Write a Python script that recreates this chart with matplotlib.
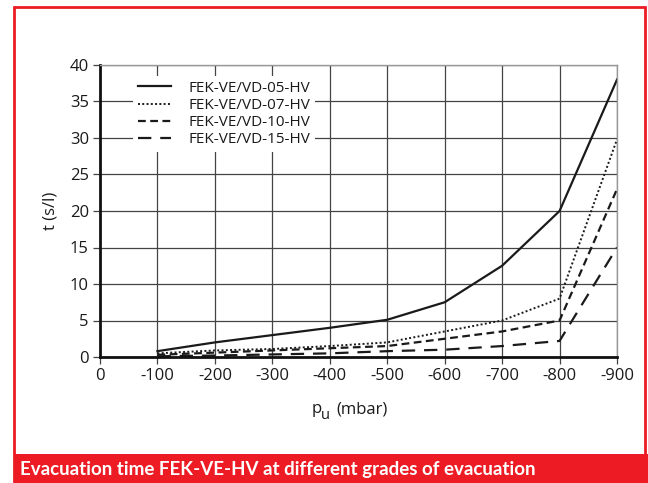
import matplotlib
matplotlib.use("Agg")
import matplotlib.pyplot as plt
from matplotlib.patches import Rectangle

pressure = [-100, -200, -300, -400, -500, -600, -700, -800, -900]
x_ticks = [0, -100, -200, -300, -400, -500, -600, -700, -800, -900]
y_ticks = [0, 5, 10, 15, 20, 25, 30, 35, 40]
s05 = [0.8, 2.0, 3.0, 4.0, 5.1, 7.5, 12.5, 20.0, 38.0]
s07 = [0.5, 0.9, 1.1, 1.5, 2.0, 3.5, 5.0, 8.0, 29.8]
s10 = [0.3, 0.6, 0.9, 1.2, 1.5, 2.5, 3.5, 5.0, 23.0]
s15 = [0.1, 0.2, 0.35, 0.5, 0.8, 1.0, 1.5, 2.2, 15.0]
labels = ["FEK-VE/VD-05-HV", "FEK-VE/VD-07-HV", "FEK-VE/VD-10-HV", "FEK-VE/VD-15-HV"]
title = "Evacuation time FEK-VE-HV at different grades of evacuation"

plt.rcParams['font.family'] = ['Open Sans', 'DejaVu Sans']

W, H = 648, 483
fig = plt.figure(figsize=(W/100, H/100), dpi=100)

# red frame and banner
red = '#ED1C24'
fig.patches.append(Rectangle((14/W, 0), (W-14-3)/W, (H-7)/H, transform=fig.transFigure,
                             fill=False, edgecolor=red, linewidth=2.0, zorder=0))
fig.patches.append(Rectangle((14/W, 0), (W-14)/W, 29/H, transform=fig.transFigure,
                             facecolor=red, edgecolor='none', zorder=1))
fig.text(20/W, 14/H, title, color='white', fontsize=13.5, fontweight='bold',
         family=['Lato', 'DejaVu Sans'], va='center', ha='left')

ax = fig.add_axes([100/W, 1-357/H, 517/W, 292/H])
ax.plot(pressure, s05, color='#1a1a1a', lw=1.6, ls='-', label=labels[0])
ax.plot(pressure, s07, color='#1a1a1a', lw=1.4, ls=(0, (1, 1.2)), label=labels[1])
ax.plot(pressure, s10, color='#1a1a1a', lw=1.6, ls=(0, (3.5, 2)), label=labels[2])
ax.plot(pressure, s15, color='#1a1a1a', lw=1.6, ls=(0, (6, 4)), label=labels[3])

ax.set_xlim(0, -900)
ax.set_ylim(0, 40)
ax.set_xticks(x_ticks)
ax.set_xticklabels([str(v) for v in x_ticks])
ax.set_yticks(y_ticks)
ax.grid(True, color='#444444', lw=0.9)
ax.set_axisbelow(True)
ax.tick_params(direction='out', length=5, width=0.9, color='#444444',
               labelsize=12, pad=3, labelcolor='#1a1a1a')
for side in ['top', 'right']:
    ax.spines[side].set_color('#999999')
    ax.spines[side].set_linewidth(1.0)
for side in ['left', 'bottom']:
    ax.spines[side].set_color('#111111')
    ax.spines[side].set_linewidth(2.0)

ax.set_ylabel('t (s/l)', fontsize=12, labelpad=8, color='#1a1a1a')

# x label: "p_u (mbar)" built from pieces
fig.text(312/W, 1-413/H, 'p', fontsize=12, color='#1a1a1a', ha='left', va='baseline')
fig.text(321/W, 1-419/H, 'u', fontsize=10.5, color='#1a1a1a', ha='left', va='baseline')
fig.text(336/W, 1-413/H, '(mbar)', fontsize=12, color='#1a1a1a', ha='left', va='baseline')

leg = ax.legend(loc='upper left', bbox_to_anchor=(0.064, 0.962), frameon=True,
                fontsize=11, handlelength=2.2, handletextpad=1.1,
                labelspacing=0.145, borderpad=0.3, borderaxespad=0)
leg.get_frame().set_facecolor('white')
leg.get_frame().set_edgecolor('none')
leg.get_frame().set_alpha(1.0)
for t in leg.get_texts():
    t.set_color('#1a1a1a')

fig.savefig('out.png', dpi=100)
